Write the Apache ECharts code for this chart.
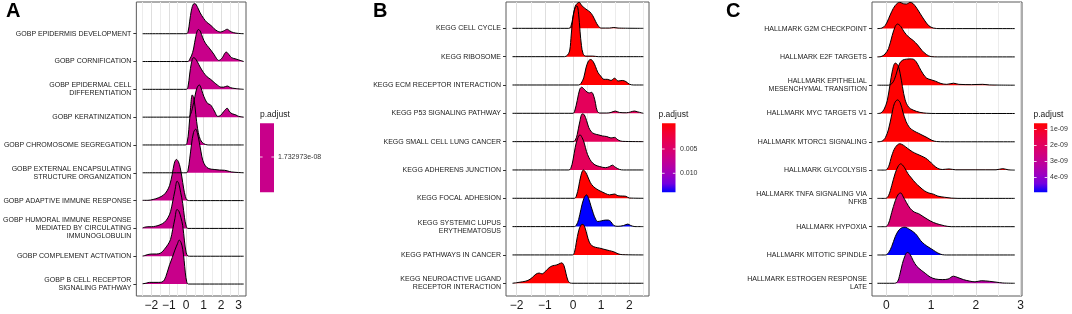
<!DOCTYPE html>
<html>
<head>
<meta charset="utf-8">
<script src="https://cdn.jsdelivr.net/npm/echarts@6/dist/echarts.min.js"></script>
<style>
  html, body { margin: 0; padding: 0; background: #fff; }
  #chart { width: 1072px; height: 314px; }
</style>
</head>
<body>
<div id="chart"></div>
<script>
// Ridgeline plots of gene-set enrichment (GO / KEGG / HALLMARK)

// ---- Panel A : GO biological process ----
const termsA = [
  "GOBP EPIDERMIS DEVELOPMENT",
  "GOBP CORNIFICATION",
  "GOBP EPIDERMAL CELL\nDIFFERENTIATION",
  "GOBP KERATINIZATION",
  "GOBP CHROMOSOME SEGREGATION",
  "GOBP EXTERNAL ENCAPSULATING\nSTRUCTURE ORGANIZATION",
  "GOBP ADAPTIVE IMMUNE RESPONSE",
  "GOBP HUMORAL IMMUNE RESPONSE\nMEDIATED BY CIRCULATING\nIMMUNOGLOBULIN",
  "GOBP COMPLEMENT ACTIVATION",
  "GOBP B CELL RECEPTOR\nSIGNALING PATHWAY",
];
const fillA = ["#C8008A", "#C8008A", "#C8008A", "#C8008A", "#C8008A",
               "#C8008A", "#C8008A", "#C8008A", "#C8008A", "#C8008A"];
// density curves, [x, height] (height in row units), top row first
const densA = [
  [[-2.5,0],[0,0],[0.1,0.05],[0.2,0.45],[0.3,0.85],[0.42,1.07],[0.5,1.08],[0.65,0.95],[0.8,0.75],[1.0,0.55],[1.2,0.4],[1.4,0.31],[1.6,0.18],[1.8,0.09],[1.95,0.06],[2.15,0.1],[2.35,0.16],[2.5,0.1],[2.7,0.04],[3.0,0.01],[3.3,0]],
  [[-2.5,0],[0.1,0],[0.2,0.08],[0.3,0.2],[0.42,0.45],[0.55,0.9],[0.7,1.15],[0.8,1.1],[0.95,0.85],[1.1,0.66],[1.3,0.5],[1.45,0.38],[1.6,0.25],[1.75,0.1],[1.87,0.04],[2.05,0.12],[2.3,0.34],[2.45,0.25],[2.6,0.14],[2.8,0.1],[3.0,0.06],[3.3,0]],
  [[-2.5,0],[0,0],[0.1,0.08],[0.2,0.55],[0.3,0.95],[0.42,1.14],[0.5,1.12],[0.65,0.98],[0.8,0.8],[1.0,0.6],[1.2,0.45],[1.4,0.36],[1.6,0.25],[1.8,0.15],[2.0,0.08],[2.15,0.08],[2.35,0.12],[2.55,0.06],[2.8,0.03],[3.3,0]],
  [[-2.5,0],[0.15,0],[0.25,0.1],[0.35,0.3],[0.5,0.75],[0.62,1.05],[0.75,1.16],[0.85,1.05],[0.95,0.85],[1.1,0.62],[1.25,0.48],[1.38,0.45],[1.5,0.35],[1.65,0.18],[1.8,0.03],[1.95,0.05],[2.15,0.2],[2.35,0.32],[2.5,0.18],[2.65,0.12],[2.85,0.08],[3.0,0.03],[3.3,0]],
  [[-2.5,0],[-0.05,0],[0.05,0.08],[0.15,0.55],[0.25,1.35],[0.35,1.8],[0.45,1.65],[0.55,1.1],[0.65,0.6],[0.75,0.3],[0.9,0.1],[1.1,0.02],[1.3,0],[3.3,0]],
  [[-2.5,0],[0,0],[0.1,0.08],[0.2,0.5],[0.3,1.0],[0.42,1.45],[0.55,1.57],[0.65,1.4],[0.75,1.1],[0.85,0.75],[0.95,0.45],[1.1,0.25],[1.3,0.15],[1.6,0.12],[1.9,0.1],[2.2,0.09],[2.35,0.07],[2.6,0.03],[3.0,0.01],[3.3,0]],
  [[-2.5,0.01],[-2.2,0.01],[-1.9,0.04],[-1.6,0.1],[-1.3,0.2],[-1.1,0.35],[-0.95,0.55],[-0.8,0.95],[-0.68,1.35],[-0.56,1.48],[-0.45,1.4],[-0.35,1.2],[-0.25,0.85],[-0.15,0.45],[-0.05,0.15],[0.05,0.02],[0.2,0],[3.3,0]],
  [[-2.5,0.02],[-2.4,0.04],[-2.2,0.06],[-2.0,0.06],[-1.75,0.08],[-1.5,0.13],[-1.25,0.22],[-1.05,0.38],[-0.9,0.6],[-0.78,0.95],[-0.65,1.35],[-0.52,1.7],[-0.42,1.6],[-0.32,1.3],[-0.2,0.9],[-0.1,0.4],[0.0,0.08],[0.1,0],[3.3,0]],
  [[-2.5,0.01],[-2.4,0.02],[-2.2,0.06],[-1.95,0.08],[-1.7,0.08],[-1.45,0.12],[-1.25,0.25],[-1.05,0.42],[-0.9,0.6],[-0.78,0.95],[-0.65,1.35],[-0.53,1.68],[-0.42,1.62],[-0.3,1.38],[-0.2,1.1],[-0.1,0.55],[0.0,0.12],[0.1,0.01],[0.2,0],[3.3,0]],
  [[-2.5,0.01],[-2.3,0.03],[-2.1,0.06],[-1.9,0.06],[-1.6,0.06],[-1.4,0.07],[-1.25,0.15],[-1.1,0.4],[-0.95,0.7],[-0.8,0.95],[-0.65,1.22],[-0.5,1.45],[-0.4,1.58],[-0.3,1.5],[-0.2,1.25],[-0.12,0.85],[-0.05,0.4],[0.03,0.08],[0.12,0],[3.3,0]],
];
const xTicksA = [-2, -1, 0, 1, 2, 3];
const legendA = ["1.732973e-08"];

// ---- Panel B : KEGG ----
const termsB = [
  "KEGG CELL CYCLE",
  "KEGG RIBOSOME",
  "KEGG ECM RECEPTOR INTERACTION",
  "KEGG P53 SIGNALING PATHWAY",
  "KEGG SMALL CELL LUNG CANCER",
  "KEGG ADHERENS JUNCTION",
  "KEGG FOCAL ADHESION",
  "KEGG SYSTEMIC LUPUS\nERYTHEMATOSUS",
  "KEGG PATHWAYS IN CANCER",
  "KEGG NEUROACTIVE LIGAND\nRECEPTOR INTERACTION",
];
const fillB = ["#FF0000", "#FF0000", "#FF0000", "#E4005A", "#E4005A",
               "#E4005A", "#FF0000", "#0000FF", "#FF0000", "#FF0000"];
const densB = [
  [[-2.15,0],[-0.15,0],[-0.08,0.05],[0.0,0.4],[0.08,0.78],[0.15,0.88],[0.22,0.92],[0.3,0.82],[0.4,0.72],[0.5,0.65],[0.6,0.58],[0.7,0.45],[0.8,0.25],[0.9,0.08],[1.0,0.01],[1.3,0.01],[1.45,0.03],[1.6,0.01],[2.5,0]],
  [[-2.15,0],[-0.3,0],[-0.2,0.05],[-0.12,0.2],[-0.06,0.8],[0.0,1.4],[0.07,1.72],[0.14,1.79],[0.2,1.5],[0.25,0.9],[0.3,0.4],[0.36,0.1],[0.45,0.02],[0.7,0.02],[0.9,0],[2.5,0]],
  [[-2.15,0],[0.2,0],[0.28,0.05],[0.38,0.25],[0.46,0.6],[0.55,0.85],[0.63,0.9],[0.72,0.82],[0.8,0.65],[0.88,0.45],[0.98,0.32],[1.1,0.2],[1.22,0.2],[1.35,0.16],[1.48,0.24],[1.6,0.14],[1.75,0.16],[1.88,0.12],[2.0,0.03],[2.15,0],[2.5,0]],
  [[-2.15,0],[0.0,0],[0.06,0.08],[0.15,0.45],[0.24,0.85],[0.31,0.92],[0.4,0.85],[0.5,0.75],[0.58,0.72],[0.66,0.74],[0.74,0.6],[0.8,0.35],[0.86,0.08],[0.95,0.01],[1.2,0.01],[1.35,0.03],[1.5,0.08],[1.65,0.03],[1.9,0.02],[2.05,0.05],[2.18,0.08],[2.3,0.05],[2.5,0]],
  [[-2.15,0],[0.0,0],[0.08,0.05],[0.15,0.25],[0.24,0.7],[0.33,0.98],[0.4,0.95],[0.48,0.75],[0.56,0.5],[0.65,0.35],[0.75,0.28],[0.9,0.24],[1.05,0.2],[1.2,0.18],[1.35,0.13],[1.48,0.15],[1.6,0.06],[1.75,0.01],[2.5,0]],
  [[-2.15,0],[-0.15,0],[-0.08,0.05],[0.0,0.35],[0.08,0.8],[0.16,1.1],[0.25,1.24],[0.32,1.15],[0.4,0.95],[0.48,0.65],[0.56,0.45],[0.65,0.3],[0.78,0.18],[0.95,0.12],[1.15,0.08],[1.3,0.12],[1.4,0.17],[1.5,0.1],[1.65,0.02],[1.8,0],[2.5,0]],
  [[-2.15,0],[0.05,0],[0.12,0.08],[0.2,0.4],[0.28,0.8],[0.37,1.0],[0.45,0.92],[0.53,0.75],[0.62,0.55],[0.72,0.42],[0.85,0.32],[1.0,0.24],[1.15,0.17],[1.3,0.12],[1.47,0.15],[1.6,0.09],[1.75,0.08],[1.88,0.07],[2.0,0.01],[2.5,0]],
  [[-2.15,0],[0.05,0],[0.12,0.05],[0.2,0.25],[0.28,0.6],[0.38,0.98],[0.48,1.12],[0.56,0.98],[0.64,0.72],[0.72,0.47],[0.8,0.27],[0.88,0.18],[1.0,0.2],[1.15,0.23],[1.25,0.23],[1.35,0.17],[1.45,0.04],[1.6,0.01],[1.8,0.04],[1.95,0.09],[2.05,0.04],[2.2,0],[2.5,0]],
  [[-2.15,0],[-0.02,0],[0.05,0.08],[0.12,0.45],[0.2,0.85],[0.28,1.05],[0.35,1.08],[0.43,0.95],[0.5,0.7],[0.58,0.45],[0.68,0.32],[0.8,0.27],[0.95,0.24],[1.1,0.2],[1.3,0.15],[1.45,0.11],[1.6,0.04],[1.75,0.01],[2.5,0]],
  [[-2.15,0],[-2.0,0.02],[-1.8,0.05],[-1.6,0.1],[-1.45,0.2],[-1.32,0.32],[-1.2,0.36],[-1.1,0.33],[-0.98,0.42],[-0.85,0.55],[-0.72,0.62],[-0.6,0.64],[-0.5,0.68],[-0.4,0.72],[-0.32,0.62],[-0.25,0.35],[-0.18,0.1],[-0.1,0.01],[0.0,0],[2.5,0]],
];
const xTicksB = [-2, -1, 0, 1, 2];
const legendB = ["0.005", "0.010"];

// ---- Panel C : HALLMARK ----
const termsC = [
  "HALLMARK G2M CHECKPOINT",
  "HALLMARK E2F TARGETS",
  "HALLMARK EPITHELIAL\nMESENCHYMAL TRANSITION",
  "HALLMARK MYC TARGETS V1",
  "HALLMARK MTORC1 SIGNALING",
  "HALLMARK GLYCOLYSIS",
  "HALLMARK TNFA SIGNALING VIA\nNFKB",
  "HALLMARK HYPOXIA",
  "HALLMARK MITOTIC SPINDLE",
  "HALLMARK ESTROGEN RESPONSE\nLATE",
];
const fillC = ["#FF0000", "#FF0000", "#FF0000", "#FF0000", "#FF0000",
               "#FF0000", "#FF0000", "#D7006F", "#0000FF", "#B800A2"];
const densC = [
  [[-0.2,0],[-0.1,0.02],[-0.02,0.12],[0.05,0.35],[0.12,0.6],[0.2,0.82],[0.3,0.93],[0.38,0.88],[0.45,0.87],[0.53,0.93],[0.6,0.88],[0.68,0.72],[0.76,0.52],[0.85,0.3],[0.95,0.1],[1.05,0.02],[1.2,0],[2.87,0]],
  [[-0.2,0],[-0.12,0.01],[-0.03,0.1],[0.05,0.3],[0.13,0.75],[0.2,1.08],[0.25,1.16],[0.32,1.08],[0.4,0.88],[0.5,0.7],[0.6,0.58],[0.7,0.42],[0.8,0.22],[0.9,0.08],[1.0,0.01],[1.15,0],[2.87,0]],
  [[-0.2,0],[0.05,0],[0.12,0.05],[0.18,0.2],[0.24,0.5],[0.3,0.78],[0.37,0.89],[0.45,0.92],[0.53,0.93],[0.6,0.92],[0.67,0.82],[0.74,0.62],[0.82,0.4],[0.9,0.25],[1.0,0.19],[1.1,0.14],[1.22,0.06],[1.35,0.03],[1.5,0.07],[1.62,0.03],[1.9,0.02],[2.15,0.03],[2.3,0.01],[2.87,0]],
  [[-0.2,0],[-0.12,0.02],[-0.05,0.15],[0.02,0.45],[0.08,1.0],[0.14,1.55],[0.2,1.78],[0.26,1.7],[0.31,1.4],[0.36,0.95],[0.42,0.48],[0.5,0.22],[0.6,0.12],[0.75,0.04],[0.9,0.01],[1.1,0],[2.87,0]],
  [[-0.2,0],[-0.1,0.02],[-0.02,0.15],[0.05,0.45],[0.12,0.95],[0.18,1.35],[0.25,1.48],[0.31,1.38],[0.37,1.05],[0.44,0.72],[0.52,0.5],[0.62,0.38],[0.72,0.3],[0.82,0.22],[0.92,0.14],[1.02,0.05],[1.12,0.01],[1.3,0],[2.87,0]],
  [[-0.2,0],[-0.02,0],[0.05,0.12],[0.12,0.5],[0.2,0.8],[0.3,0.93],[0.38,0.88],[0.48,0.76],[0.58,0.65],[0.68,0.57],[0.78,0.5],[0.88,0.42],[0.96,0.32],[1.05,0.18],[1.15,0.06],[1.25,0.02],[1.4,0.04],[1.55,0.01],[2.45,0.01],[2.6,0.05],[2.72,0.01],[2.87,0]],
  [[-0.2,0],[-0.02,0],[0.05,0.1],[0.12,0.45],[0.2,0.9],[0.27,1.15],[0.32,1.22],[0.4,1.1],[0.48,0.88],[0.56,0.72],[0.65,0.55],[0.75,0.4],[0.85,0.27],[0.95,0.19],[1.05,0.15],[1.15,0.08],[1.3,0.04],[1.45,0.01],[1.6,0],[2.87,0]],
  [[-0.2,0],[-0.02,0],[0.05,0.12],[0.12,0.5],[0.2,0.92],[0.27,1.15],[0.32,1.19],[0.38,1.05],[0.45,0.85],[0.53,0.65],[0.62,0.52],[0.72,0.46],[0.82,0.36],[0.93,0.25],[1.05,0.15],[1.18,0.08],[1.3,0.03],[1.45,0],[2.87,0]],
  [[-0.2,0],[-0.02,0],[0.05,0.08],[0.12,0.3],[0.2,0.65],[0.28,0.88],[0.36,0.97],[0.42,0.98],[0.5,0.92],[0.6,0.82],[0.68,0.7],[0.76,0.52],[0.85,0.38],[0.95,0.27],[1.05,0.17],[1.15,0.07],[1.25,0.01],[1.35,0],[2.87,0]],
  [[-0.2,0],[0.18,0],[0.25,0.06],[0.3,0.3],[0.36,0.7],[0.42,0.98],[0.47,1.09],[0.53,1.02],[0.6,0.8],[0.68,0.6],[0.78,0.46],[0.88,0.34],[0.98,0.22],[1.1,0.15],[1.25,0.13],[1.38,0.15],[1.5,0.25],[1.6,0.2],[1.72,0.13],[1.85,0.08],[1.98,0.05],[2.12,0.09],[2.3,0.07],[2.45,0.04],[2.6,0.01],[2.87,0]],
];
const xTicksC = [0, 1, 2, 3];
const legendC = ["1e-09", "2e-09", "3e-09", "4e-09"];

// ---- layout / style ----
const FONT = '"Liberation Sans", Arial, Helvetica, sans-serif';
const GRID_MAJOR = "#dedede";
const GRID_MINOR = "#ececec";
const GRADIENT = ["#FF0000", "#F30031", "#E80050", "#DA006C", "#CA0089", "#B500A5", "#9A00C2", "#7300E0", "#0000FF"];

const panels = [
  { terms: termsA, fills: fillA, dens: densA, ticks: xTicksA, min: -2.86, max: 3.43, left: 132, right: 826 },
  { terms: termsB, fills: fillB, dens: densB, ticks: xTicksB, min: -2.38, max: 2.70, left: 506, right: 423 },
  { terms: termsC, fills: fillC, dens: densC, ticks: xTicksC, min: -0.32, max: 3.03, left: 872, right: 50 },
];
const yRanges = [[-0.43, 10.14], [-0.45, 9.93], [-0.45, 9.94]];

function minusSign(v) {
  return String(v).replace("-", "\u2212");
}

// grid lines at every half unit inside the range (the split lines follow these)
function halfSteps(min, max) {
  const out = [];
  for (let v = Math.ceil(min * 2) / 2; v <= max; v += 0.5) out.push(v);
  return out;
}
function halfColours(vals) {
  return vals.map((v) => (Math.abs(v - Math.round(v)) < 1e-9 ? GRID_MAJOR : GRID_MINOR));
}

const grids = [], xAxes = [], yAxes = [], series = [];

panels.forEach((p, pi) => {
  const n = p.terms.length;
  const rows = p.terms.map((_, i) => i);
  const halves = halfSteps(p.min, p.max);
  grids.push({
    left: p.left, right: p.right, top: 2, bottom: 18,
    show: true, backgroundColor: "#fff", borderColor: "#5a5a5a", borderWidth: 1,
  });
  xAxes.push({
    type: "value", gridIndex: pi, min: p.min, max: p.max,
    axisLine: { show: false, onZero: false },
    axisTick: { show: false, customValues: halves },
    axisLabel: { customValues: p.ticks, formatter: minusSign, fontSize: 12, color: "#1a1a1a", margin: 4, fontFamily: FONT },
    splitLine: { show: true, lineStyle: { color: halfColours(halves), width: 1 } },
  });
  yAxes.push({
    type: "value", gridIndex: pi, min: yRanges[pi][0], max: yRanges[pi][1],
    axisLine: { show: false, onZero: false },
    splitLine: { show: false },
    axisTick: { show: true, customValues: rows, length: 3, lineStyle: { color: "#333", width: 1 } },
    axisLabel: {
      customValues: rows,
      formatter: (v) => p.terms[n - 1 - Math.round(v)],
      fontSize: 7, lineHeight: 8, color: "#1a1a1a", margin: 5, fontFamily: FONT, align: "right",
    },
  });
  // top ridge first, so lower ridges are painted over the ones above
  p.dens.forEach((curve, i) => {
    const base = n - 1 - i;
    series.push({
      type: "line",
      name: p.terms[i],
      xAxisIndex: pi, yAxisIndex: pi,
      data: curve.map(([x, h]) => [x, base + h]),
      smooth: 0.35,
      symbol: "none",
      silent: true,
      lineStyle: { color: "#000", width: 1 },
      areaStyle: { color: p.fills[i], opacity: 1, origin: base },
    });
  });
});

// colourbar legends and panel letters
function colourBar(x, y, w, h, stops) {
  return {
    type: "rect", shape: { x: x, y: y, width: w, height: h },
    style: {
      fill: {
        type: "linear", x: 0, y: 0, x2: 0, y2: 1,
        colorStops: stops.map((c, i) => ({ offset: stops.length > 1 ? i / (stops.length - 1) : 0, color: c })),
      },
    },
  };
}
function barTicks(x, w, ys) {
  const out = [];
  ys.forEach((y) => {
    out.push({ type: "line", shape: { x1: x, y1: y, x2: x + 2.6, y2: y }, style: { stroke: "#fff", lineWidth: 0.8 } });
    out.push({ type: "line", shape: { x1: x + w - 2.6, y1: y, x2: x + w, y2: y }, style: { stroke: "#fff", lineWidth: 0.8 } });
  });
  return out;
}
function txt(x, y, s, size, weight, colour) {
  return {
    type: "text", x: x, y: y,
    style: { text: s, fontSize: size, fontWeight: weight || "normal", fill: colour || "#1a1a1a", fontFamily: FONT, verticalAlign: "middle", align: "left" },
  };
}

const graphics = [
  txt(6, 11, "A", 20, "bold", "#000"),
  txt(373, 11, "B", 20, "bold", "#000"),
  txt(726, 11, "C", 20, "bold", "#000"),

  txt(260, 115, "p.adjust", 8.5),
  colourBar(260, 123.3, 14, 69, [fillA[0], fillA[0]]),
  ...barTicks(260, 14, [157]),
  txt(278, 157, legendA[0], 7, "normal", "#333"),

  txt(658.5, 115, "p.adjust", 8.5),
  colourBar(662, 123.3, 13.5, 69, GRADIENT),
  ...barTicks(662, 13.5, [149, 173.3]),
  txt(680, 149, legendB[0], 7, "normal", "#333"),
  txt(680, 173.3, legendB[1], 7, "normal", "#333"),

  txt(1033.5, 115, "p.adjust", 8.5),
  colourBar(1034, 123.3, 13.3, 69, GRADIENT),
  ...barTicks(1034, 13.3, [129.5, 145.5, 161.5, 177.5]),
  txt(1050, 129.5, legendC[0], 7, "normal", "#333"),
  txt(1050, 145.5, legendC[1], 7, "normal", "#333"),
  txt(1050, 161.5, legendC[2], 7, "normal", "#333"),
  txt(1050, 177.5, legendC[3], 7, "normal", "#333"),
];

const chart = echarts.init(document.getElementById("chart"), null, { renderer: "canvas" });
chart.setOption({
  animation: false,
  backgroundColor: "#fff",
  textStyle: { fontFamily: FONT },
  grid: grids,
  xAxis: xAxes,
  yAxis: yAxes,
  series: series,
  graphic: graphics,
});
window.addEventListener("resize", () => chart.resize());
</script>
</body>
</html>
